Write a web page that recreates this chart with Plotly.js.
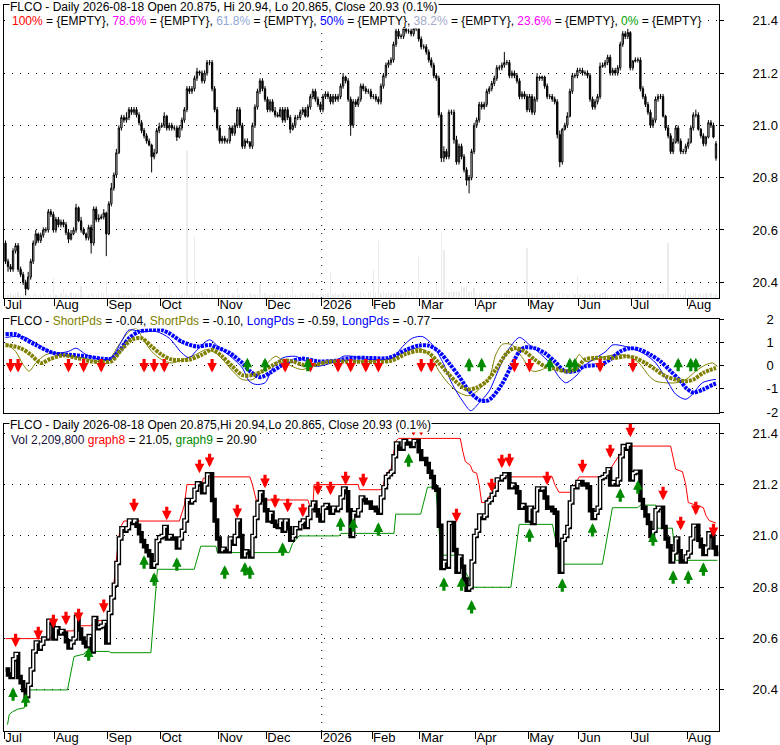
<!DOCTYPE html>
<html><head><meta charset="utf-8">
<script src="https://cdn.plot.ly/plotly-3.0.1.min.js"></script>
<style>html,body{margin:0;padding:0;background:#fff}#chart{width:780px;height:745px}</style>
</head><body><div id="chart"></div>
<script>
// ---------- DATA ----------
const monthLabels = ['Jul','Aug','Sep','Oct','Nov','Dec','2026','Feb','Mar','Apr','May','Jun','Jul','Aug'];
const monthStarts = [0,20,41,62,85,104,126,146,165,187,208,228,249,271];
const priceTicks = [20.4,20.6,20.8,21.0,21.2,21.4];
const priceTickText = ['20.4','20.6','20.8','21.0','21.2','21.4'];
const oscTicks = [-2,-1,0,1,2];
const oscTickText = ['-2','-1','0','1','2'];

const closes = [
20.48,20.46,20.45,20.52,20.54,20.45,20.43,20.40,20.375,20.42,
20.48,20.55,20.585,20.56,20.58,20.60,20.60,20.67,20.66,20.60,
20.64,20.62,20.63,20.62,20.59,20.565,20.585,20.60,20.685,20.635,
20.60,20.585,20.57,20.61,20.55,20.68,20.64,20.645,20.65,20.665,
20.585,20.70,20.76,20.81,20.895,20.99,21.03,21.02,21.03,21.06,
21.05,21.06,21.04,21.01,20.98,20.96,20.94,20.925,20.88,20.895,
20.98,20.995,21.00,21.035,20.99,21.00,20.99,20.99,20.955,20.99,
21.02,21.06,21.14,21.13,21.14,21.18,21.205,21.20,21.17,21.20,
21.24,21.24,21.14,21.06,20.99,20.94,20.95,20.94,20.94,20.99,
20.97,21.00,21.06,21.00,20.92,20.94,20.935,20.92,21.00,21.07,
21.13,21.17,21.14,21.10,21.06,21.09,21.055,21.04,21.035,21.06,
21.02,21.06,21.03,20.985,21.00,21.03,21.03,21.05,21.06,21.035,
21.07,21.11,21.13,21.10,21.08,21.06,21.11,21.12,21.11,21.09,
21.11,21.10,21.11,21.15,21.185,21.17,21.10,21.00,21.09,21.08,
21.10,21.15,21.14,21.13,21.13,21.11,21.11,21.10,21.09,21.15,
21.19,21.23,21.24,21.25,21.31,21.36,21.34,21.34,21.37,21.36,
21.36,21.35,21.37,21.37,21.33,21.30,21.30,21.28,21.25,21.23,
21.19,21.18,21.04,20.875,20.90,20.88,21.05,21.05,20.945,20.86,
20.92,20.88,20.83,20.79,20.80,20.90,21.00,21.02,21.08,21.07,
21.08,21.13,21.14,21.16,21.18,21.22,21.22,21.23,21.24,21.24,
21.19,21.20,21.19,21.17,21.11,21.12,21.11,21.06,21.11,21.05,
21.10,21.185,21.18,21.185,21.15,21.11,21.11,21.10,21.09,20.965,
20.86,20.985,21.00,21.035,21.13,21.19,21.19,21.21,21.21,21.20,
21.20,21.19,21.10,21.07,21.09,21.11,21.225,21.23,21.24,21.26,
21.20,21.21,21.20,21.22,21.31,21.35,21.34,21.355,21.22,21.245,
21.25,21.25,21.14,21.11,21.08,21.05,21.00,21.02,21.10,21.11,
21.11,21.035,20.99,20.96,20.90,20.935,20.99,20.94,20.90,20.90,
20.92,20.935,20.99,21.04,21.04,20.985,20.96,20.93,20.955,21.01,
21.00,20.955,20.93];

const opens = [
20.55,20.48,20.46,20.45,20.52,20.54,20.45,20.43,20.40,20.375,
20.42,20.48,20.55,20.585,20.56,20.58,20.60,20.60,20.67,20.66,
20.60,20.64,20.62,20.63,20.62,20.59,20.565,20.585,20.60,20.685,
20.635,20.60,20.585,20.57,20.61,20.55,20.68,20.64,20.645,20.65,
20.665,20.585,20.70,20.76,20.81,20.895,20.99,21.03,21.02,21.03,
21.06,21.05,21.06,21.04,21.01,20.98,20.96,20.94,20.925,20.88,
20.895,20.98,20.995,21.00,21.035,20.99,21.00,20.99,20.99,20.955,
20.99,21.02,21.06,21.14,21.13,21.14,21.18,21.205,21.20,21.17,
21.20,21.24,21.24,21.14,21.06,20.99,20.94,20.95,20.94,20.94,
20.99,20.97,21.00,21.06,21.00,20.92,20.94,20.935,20.92,21.00,
21.07,21.13,21.17,21.14,21.10,21.06,21.09,21.055,21.04,21.035,
21.06,21.02,21.06,21.03,20.985,21.00,21.03,21.03,21.05,21.06,
21.035,21.07,21.11,21.13,21.10,21.08,21.06,21.11,21.12,21.11,
21.09,21.11,21.10,21.11,21.15,21.185,21.17,21.10,21.00,21.09,
21.08,21.10,21.15,21.14,21.13,21.13,21.11,21.11,21.10,21.09,
21.15,21.19,21.23,21.24,21.25,21.31,21.36,21.34,21.34,21.37,
21.36,21.36,21.35,21.37,21.37,21.33,21.30,21.30,21.28,21.25,
21.23,21.19,21.18,21.04,20.875,20.90,20.88,21.05,21.05,20.945,
20.86,20.92,20.88,20.83,20.79,20.80,20.90,21.00,21.02,21.08,
21.07,21.08,21.13,21.14,21.16,21.18,21.22,21.22,21.23,21.24,
21.24,21.19,21.20,21.19,21.17,21.11,21.12,21.11,21.06,21.11,
21.05,21.10,21.185,21.18,21.185,21.15,21.11,21.11,21.10,21.09,
20.965,20.86,20.985,21.00,21.035,21.13,21.19,21.19,21.21,21.21,
21.20,21.20,21.19,21.10,21.07,21.09,21.11,21.225,21.23,21.24,
21.26,21.20,21.21,21.20,21.22,21.31,21.35,21.34,21.355,21.22,
21.245,21.25,21.25,21.14,21.11,21.08,21.05,21.00,21.02,21.10,
21.11,21.11,21.035,20.99,20.96,20.90,20.935,20.99,20.94,20.90,
20.90,20.92,20.935,20.99,21.04,21.04,20.985,20.96,20.93,20.955,
21.01,21.00,20.875];

const highs = [
20.56,20.49,20.47,20.53,20.55,20.55,20.46,20.44,20.41,20.44,
20.49,20.56,20.60,20.59,20.59,20.61,20.61,20.68,20.68,20.67,
20.65,20.65,20.64,20.64,20.63,20.60,20.60,20.61,20.70,20.69,
20.65,20.61,20.59,20.62,20.62,20.69,20.69,20.66,20.66,20.68,
20.67,20.71,20.78,20.82,20.91,21.00,21.04,21.04,21.05,21.07,
21.07,21.07,21.07,21.05,21.02,20.99,20.97,20.95,20.93,20.91,
20.99,21.01,21.01,21.05,21.04,21.01,21.01,21.00,21.00,21.00,
21.03,21.07,21.15,21.15,21.15,21.19,21.22,21.21,21.21,21.21,
21.25,21.25,21.25,21.15,21.07,21.00,20.96,20.96,20.95,21.00,
21.00,21.01,21.07,21.07,21.01,20.95,20.95,20.94,21.01,21.08,
21.14,21.18,21.18,21.15,21.11,21.10,21.10,21.07,21.05,21.07,
21.07,21.07,21.07,21.04,21.01,21.04,21.04,21.06,21.07,21.07,
21.08,21.12,21.14,21.14,21.11,21.09,21.12,21.13,21.13,21.12,
21.12,21.12,21.12,21.16,21.20,21.19,21.18,21.11,21.10,21.10,
21.11,21.16,21.16,21.15,21.14,21.14,21.12,21.12,21.11,21.16,
21.20,21.24,21.25,21.26,21.32,21.37,21.37,21.35,21.38,21.38,
21.37,21.37,21.38,21.38,21.38,21.34,21.31,21.31,21.29,21.26,
21.24,21.20,21.19,21.05,20.92,20.91,21.06,21.06,21.06,20.96,
20.93,20.93,20.89,20.84,20.81,20.91,21.01,21.03,21.09,21.09,
21.09,21.14,21.15,21.17,21.19,21.23,21.23,21.24,21.28,21.25,
21.25,21.21,21.21,21.20,21.18,21.13,21.13,21.12,21.12,21.12,
21.11,21.20,21.19,21.19,21.19,21.16,21.12,21.12,21.11,21.10,
20.98,20.99,21.01,21.05,21.14,21.20,21.20,21.22,21.22,21.22,
21.21,21.21,21.20,21.11,21.10,21.12,21.24,21.24,21.25,21.27,
21.27,21.22,21.22,21.23,21.32,21.36,21.36,21.37,21.36,21.25,
21.26,21.26,21.26,21.15,21.12,21.09,21.06,21.03,21.11,21.12,
21.12,21.12,21.04,21.00,20.97,20.95,21.00,21.00,20.95,20.91,
20.93,20.95,21.00,21.05,21.06,21.05,20.99,20.97,20.96,21.02,
21.02,21.01,20.94];

const lows = [
20.47,20.44,20.44,20.44,20.51,20.44,20.42,20.39,20.35,20.37,
20.41,20.47,20.54,20.55,20.55,20.57,20.59,20.59,20.65,20.59,
20.59,20.61,20.61,20.61,20.58,20.55,20.56,20.58,20.59,20.63,
20.59,20.58,20.56,20.56,20.51,20.54,20.63,20.63,20.64,20.64,
20.50,20.58,20.69,20.75,20.80,20.89,20.98,21.01,21.01,21.02,
21.04,21.04,21.03,21.00,20.97,20.95,20.93,20.92,20.82,20.87,
20.89,20.97,20.99,20.99,20.98,20.98,20.98,20.98,20.94,20.95,
20.98,21.01,21.05,21.12,21.12,21.13,21.17,21.19,21.16,21.16,
21.19,21.23,21.13,21.05,20.98,20.93,20.93,20.93,20.93,20.93,
20.96,20.96,20.99,20.99,20.91,20.91,20.93,20.91,20.91,20.99,
21.06,21.12,21.13,21.09,21.05,21.05,21.05,21.03,21.03,21.03,
21.01,21.01,21.02,20.97,20.98,20.99,21.02,21.02,21.04,21.03,
21.03,21.06,21.10,21.09,21.07,21.05,21.05,21.10,21.10,21.08,
21.08,21.09,21.09,21.10,21.14,21.16,21.09,20.96,20.99,21.07,
21.07,21.09,21.13,21.12,21.12,21.10,21.10,21.09,21.08,21.08,
21.14,21.18,21.22,21.23,21.24,21.30,21.33,21.33,21.33,21.35,
21.35,21.34,21.34,21.36,21.32,21.29,21.29,21.27,21.24,21.22,
21.18,21.17,21.03,20.86,20.86,20.87,20.87,21.04,20.93,20.85,
20.85,20.87,20.82,20.77,20.74,20.79,20.89,20.99,21.01,21.06,
21.06,21.07,21.12,21.13,21.15,21.17,21.21,21.21,21.22,21.23,
21.18,21.18,21.18,21.16,21.10,21.10,21.10,21.05,21.05,21.04,
21.04,21.09,21.17,21.17,21.14,21.10,21.10,21.09,21.08,20.95,
20.84,20.85,20.98,20.99,21.03,21.12,21.18,21.18,21.20,21.19,
21.19,21.18,21.09,21.06,21.06,21.08,21.10,21.22,21.22,21.23,
21.19,21.19,21.19,21.19,21.21,21.30,21.33,21.33,21.21,21.21,
21.24,21.24,21.13,21.10,21.07,21.04,20.99,20.99,21.01,21.09,
21.10,21.03,20.98,20.95,20.89,20.89,20.93,20.93,20.89,20.89,
20.89,20.91,20.93,20.98,21.03,20.98,20.95,20.92,20.92,20.95,
20.99,20.95,20.865];

// volume in millions of shares
const volumes = [
2.1,1.8,2.5,1.6,2.2,3.0,1.9,2.4,2.8,2.0,
1.7,2.3,2.6,1.9,2.2,3.1,2.0,1.8,2.4,11.0,
2.2,1.9,2.7,5.0,2.1,1.8,3.5,2.3,2.0,2.6,
6.5,2.2,1.9,2.4,2.8,2.1,1.7,2.5,3.0,2.6,
9.0,2.4,2.9,2.2,2.0,2.6,1.8,2.3,2.1,1.9,
2.5,2.2,1.9,2.4,2.0,1.8,2.3,2.6,2.1,2.4,
2.0,7.0,2.3,1.9,2.2,2.0,2.5,1.8,2.1,2.4,
2.2,2.6,80.0,2.3,2.0,33.0,2.4,2.1,3.2,2.6,
2.2,1.9,2.8,2.4,7.5,2.0,2.3,2.6,2.1,1.9,
2.4,2.2,5.5,2.0,2.6,2.3,1.8,2.5,2.2,2.0,
2.4,7.5,2.1,2.6,2.3,1.9,2.2,2.8,2.0,2.4,
1.8,2.2,2.5,2.0,6.5,2.3,1.9,2.6,2.1,2.4,
2.2,2.0,2.7,2.3,1.9,2.5,2.1,2.4,2.8,14.0,
2.3,2.6,2.0,2.2,2.5,1.9,2.4,2.8,2.1,2.6,
2.3,3.0,2.5,2.2,3.4,2.6,15.0,3.1,31.0,2.8,
4.0,2.7,3.3,2.5,3.0,2.6,3.2,2.4,2.9,3.5,
2.6,3.0,2.8,3.4,22.0,3.1,2.7,3.6,2.9,3.3,
3.8,7.5,4.2,36.0,26.0,4.5,3.4,3.9,3.2,3.6,
3.0,6.5,6.0,6.5,3.3,3.8,5.5,2.9,2.6,2.4,
2.2,2.5,2.0,2.3,1.9,2.4,2.1,2.6,2.2,2.0,
2.3,1.9,2.5,2.2,2.0,2.4,2.1,27.0,3.0,2.3,
2.1,2.5,2.0,2.2,2.6,2.3,1.9,2.4,2.2,2.7,
3.0,2.5,2.2,2.4,2.0,2.6,2.3,12.0,2.1,2.5,
2.2,2.8,2.4,2.1,2.6,2.3,2.0,2.5,2.7,2.2,
2.4,2.1,2.6,2.3,2.0,2.5,2.2,2.4,9.0,2.1,
2.6,2.3,2.0,2.4,2.2,2.7,2.3,2.1,2.5,2.2,
2.4,2.0,2.6,30.0,2.3,2.1,2.5,2.8,2.2,2.4,
5.0,2.3,2.1,2.6,2.9,2.4,2.6,2.2,2.5,2.3,
2.6,2.4,2.21];

// oscillator (ShortPds / LongPds) readings: bar index -> value
const fastShortIdx = [0,4,7,9.4,12,16,20,25,31,36,41,45,49,52,54,58,62,66,72,75.5,79.5,83.5,87.4,91.4,94,98,102,104.6,107.3,111.2,115.2,117.9,123.2,131,137.7,144.3,153.6,158.9,164.2,168.2,172.1,176.1,180,184,188,192,194.6,197.3,201.2,205.2,209.2,213.1,217.1,221.1,225,227.7,230.3,234.3,238.3,243.5,247.5,251.5,255.5,258.1,262.1,266,270,274,278,280.6,282.6];
const fastShortVal = [0.97,0.61,0.04,-0.24,0.11,0.47,0.54,0.40,0.33,0.18,0.26,0.89,1.46,1.60,1.25,0.61,0.26,0.11,0.33,0.47,0.68,0.54,0.11,-0.38,-0.60,-0.60,-0.24,0.18,0.40,0.11,-0.10,-0.17,0.04,0.18,0.21,0.18,0.33,0.61,0.75,0.47,-0.24,-0.81,-1.16,-1.30,-1.02,-0.53,0.47,0.92,0.89,0.33,-0.24,-0.17,0.11,-0.24,-0.03,0.47,0.18,0.26,0.40,0.47,0.40,0.11,-0.45,-0.67,-0.74,-0.74,-0.60,-0.24,0.04,0.11,-0.04];
const slowShortIdx = [0,6,10,14,18,23,28,34,38,42,46,50,54,58,62,66,73,78,82,86,90,94,98,102,106,110,114,118,123,128,135,142,148,153,159,164,168,172,176,180,183,187,191,195,199,202,206,210,214,218,222,226,230,234,238,242,246,250,254,258,262,266,270,273,277,282];
const slowShortVal = [0.89,0.75,0.47,0.11,0.30,0.44,0.33,0.18,0.16,0.18,0.68,1.11,1.18,0.82,0.47,0.26,0.26,0.47,0.68,0.40,-0.03,-0.41,-0.41,-0.24,0.01,0.21,0.18,0.04,0.04,0.16,0.18,0.16,0.16,0.21,0.50,0.64,0.54,0.11,-0.38,-0.81,-1.02,-0.95,-0.67,-0.10,0.54,0.75,0.61,0.26,-0.03,-0.13,-0.24,-0.17,0.26,0.33,0.33,0.33,0.40,0.33,0.11,-0.17,-0.46,-0.60,-0.67,-0.60,-0.31,-0.10];
const fastLongIdx = [0,7,12,19,25,28,32,38,42,46,49,54,60,65,70,73,75.5,81,85,90,94,96.7,99.3,103,106,110,115,118,123,131,134,138,144,153.6,157.6,161.5,165.5,169.5,173.4,177.4,181.4,184.7,188,192,196,200,204,208,212,216,220,222.4,226.4,230.3,234.3,238.3,241,246.2,250.2,254.1,258.1,262,266,270,272.7,276.6,282];
const fastLongVal = [1.21,1.25,0.97,0.54,0.61,0.75,0.47,0.26,0.33,1.03,1.53,1.46,1.46,1.18,0.54,0.33,0.61,1.11,0.75,0.33,-0.10,-0.67,-0.81,-0.74,-0.10,0.33,0.40,0.26,-0.03,0.18,0.40,0.40,0.26,0.33,0.82,1.18,1.25,0.89,0.18,-0.81,-1.52,-1.94,-1.60,-1.09,-0.10,0.75,1.21,0.89,0.54,0.11,-0.53,-0.74,-0.45,0.04,0.33,0.61,0.89,0.82,0.68,0.47,0.11,-0.53,-1.23,-1.45,-1.23,-0.74,-0.59];
const slowLongIdx = [0,4,7,12,19,25,32,38,42,45,49,53,57,62,65,70,76,81,83,89,94,97,101,105,109,113,118,124,131,138,144,152,159,164,168,172,176,180,184,188,191,193,197,201,204,206,210,214,218,222,226,230,236,240,244,248,252,256,260,264,268,270,273,277,281,282];
const slowLongVal = [1.35,1.35,1.18,0.89,0.54,0.47,0.40,0.30,0.30,0.61,1.18,1.46,1.53,1.53,1.39,1.03,0.82,0.89,0.82,0.54,0.11,-0.24,-0.50,-0.31,-0.03,0.18,0.30,0.18,0.21,0.33,0.33,0.33,0.68,0.86,0.86,0.61,0.11,-0.46,-1.09,-1.48,-1.52,-1.38,-0.81,0.04,0.61,0.78,0.75,0.54,0.18,-0.24,-0.24,-0.03,0.04,0.26,0.61,0.75,0.68,0.47,0.18,-0.24,-0.67,-0.95,-1.16,-1.02,-0.81,-0.77];
const oscSellIdx = [2,5,25,31,38,55,59,63,82,111,121,132,137,143,148,165,169,202,208,236,249];
const oscBuyIdx = [96,103,120,184,189,216,224,226,267,272,274];
const oscSellTip = -0.30;
const oscBuyTip = 0.34;

// graph8 (upper channel) / graph9 (lower channel)
const g8Idx = [0,18,19,27,28,34,35,41.5,42,43,44,45,46,47,69,70,71,72,78,78.5,82,82.5,97,98,99.5,120,121,122,122.5,140,140.5,149,150,151,152,153,154,155,156,180.5,181.5,182.5,184.5,185.5,187,188,189,190.6,191.5,193.3,194,197.3,217,218,219.7,225,226,227.7,238.3,240,244,246,264,265,266,268.7,270,271,277,278,279.3,282];
const g8Val = [20.60,20.60,20.63,20.63,20.65,20.65,20.67,20.67,20.72,20.82,20.91,21.0,21.04,21.058,21.058,21.09,21.12,21.20,21.20,21.225,21.225,21.23,21.23,21.2,21.14,21.14,21.11,21.11,21.2,21.2,21.18,21.18,21.2,21.24,21.25,21.26,21.32,21.37,21.38,21.38,21.33,21.29,21.275,21.25,21.245,21.2,21.13,21.13,21.15,21.16,21.2,21.23,21.23,21.2,21.17,21.17,21.2,21.23,21.23,21.26,21.32,21.35,21.35,21.3,21.26,21.25,21.20,21.13,21.11,21.08,21.06,21.05];
const g9Idx = [0.8,1.5,2.8,4.8,7.4,8.7,24.6,27.2,31.2,31.9,41.1,41.8,57.7,59.7,60.3,74.9,77.5,83.5,84.1,112.6,113.9,116.5,132.4,133.1,154.2,154.9,164.8,167.5,170.8,172.8,173.4,178.7,185.3,186,200.6,203.2,203.9,217.1,218.4,221,236.9,240.9,250.8,252.1,258.1,258.8,264.7,266,282.6];
const g9Val = [20.265,20.305,20.315,20.325,20.33,20.40,20.40,20.53,20.54,20.55,20.55,20.545,20.545,20.81,20.87,20.87,20.96,20.96,20.935,20.935,20.97,21.0,21.0,21.01,21.01,21.085,21.085,21.19,21.19,20.93,20.925,20.925,20.81,20.80,20.80,21.01,21.045,21.045,20.98,20.89,20.89,21.11,21.11,21.12,21.12,21.03,21.03,20.905,20.905];
const sellIdx = [4,13,19,24,29,39,51,64,77,81,92,103,107,112,118,124,129,135,142,156,162,165,179,193,197,200,215,229,240,248,261,268,274,281];
const sellLevel = [20.566,20.594,20.64,20.652,20.664,20.70,21.092,21.061,21.244,21.268,21.069,21.186,21.108,21.092,21.073,21.158,21.158,21.197,21.19,21.40,21.39,21.39,21.053,21.17,21.264,21.268,21.197,21.244,21.303,21.384,21.139,21.022,21.081,20.995];
const buyIdx = [3,8,33,55,59,68,87,95,97,110,133,138,148,160,174,181,185,208,221,233,244,251,257,265,271,277];
const buyLevel = [20.41,20.387,20.566,20.925,20.858,20.917,20.886,20.898,20.886,20.975,21.073,21.069,21.053,21.322,20.839,20.839,20.75,21.03,20.835,21.05,21.186,21.217,21.014,20.866,20.866,20.897];

// ---------- LAYOUT HELPERS ----------
const N = closes.length;
const idx = closes.map((_, i) => i);
const FONT = 'Liberation Sans, Arial, sans-serif';
const PL = 4, PR = 719, PT = 5, PB = 731;
const xf = px => (px - PL) / (PR - PL);
const yf = py => (PB - py) / (PB - PT);
const xRange = [-0.6, 283.2];
const monthTickVals = monthStarts.map(s => s - 0.5);
const RED = '#ff0000', GREEN = '#008a00', OLIVE = '#808000', BLUE = '#0000ff';
const DOT = '1px,7px';

const traces = [];
traces.push({type:'bar', x:idx, y:volumes, xaxis:'x', yaxis:'y', marker:{color:'#ebebeb', line:{width:0}}, width:0.5, hoverinfo:'skip'});
traces.push({type:'candlestick', x:idx, open:opens, high:highs, low:lows, close:closes, xaxis:'x', yaxis:'y2',
  increasing:{line:{color:'#000', width:1}, fillcolor:'#ffffff'},
  decreasing:{line:{color:'#000', width:1}, fillcolor:'#000000'},
  whiskerwidth:0, hoverinfo:'skip'});
traces.push({type:'scatter', mode:'lines', x:fastShortIdx, y:fastShortVal, xaxis:'x2', yaxis:'y3', line:{color:OLIVE, width:1, shape:'spline', smoothing:0.8}, hoverinfo:'skip'});
traces.push({type:'scatter', mode:'lines', x:fastLongIdx, y:fastLongVal, xaxis:'x2', yaxis:'y3', line:{color:BLUE, width:1, shape:'spline', smoothing:0.8}, hoverinfo:'skip'});
traces.push({type:'scatter', mode:'lines', x:slowLongIdx, y:slowLongVal, xaxis:'x2', yaxis:'y3', line:{color:BLUE, width:4, shape:'spline', smoothing:0.8, dash:'3px,1px'}, hoverinfo:'skip'});
traces.push({type:'scatter', mode:'lines', x:slowShortIdx, y:slowShortVal, xaxis:'x2', yaxis:'y3', line:{color:OLIVE, width:4, shape:'spline', smoothing:0.8, dash:'3px,1px'}, hoverinfo:'skip'});
traces.push({type:'scatter', mode:'lines', x:g8Idx, y:g8Val, xaxis:'x3', yaxis:'y4', line:{color:RED, width:1}, hoverinfo:'skip'});
traces.push({type:'scatter', mode:'lines', x:g9Idx, y:g9Val, xaxis:'x3', yaxis:'y4', line:{color:'#009000', width:1}, hoverinfo:'skip'});
// step line of closes: black thick, white core on rising legs
traces.push({type:'scatter', mode:'lines', x:idx.concat([N]), y:closes.concat([closes[N-1]]), xaxis:'x3', yaxis:'y4', line:{color:'#000', width:4.5, shape:'hv'}, hoverinfo:'skip'});
const wx = [], wy = [];
for (let i = 1; i < N; i++) {
  if (closes[i] > closes[i-1]) { wx.push(i, i, i+1, null); wy.push(closes[i-1], closes[i], closes[i], null); }
}
traces.push({type:'scatter', mode:'lines', x:wx, y:wy, xaxis:'x3', yaxis:'y4', line:{color:'#fff', width:1.8}, connectgaps:false, hoverinfo:'skip'});

function arrow(xref, yref, x, y, up, color) {
  return {xref:xref, yref:yref, x:x, y:y, axref:'pixel', ayref:'pixel', ax:0, ay: up ? 15 : -15,
    text:'', showarrow:true, arrowhead:2, arrowsize:0.6, arrowwidth:3.2, arrowcolor:color, standoff:0};
}
const annotations = [];
oscSellIdx.forEach(i => annotations.push(arrow('x2','y3', i, oscSellTip, false, RED)));
oscBuyIdx.forEach(i => annotations.push(arrow('x2','y3', i, oscBuyTip, true, GREEN)));
sellIdx.forEach((i,k) => annotations.push(arrow('x3','y4', i, sellLevel[k], false, RED)));
buyIdx.forEach((i,k) => annotations.push(arrow('x3','y4', i, buyLevel[k], true, GREEN)));

function label(px, py, html) {
  return {xref:'paper', yref:'paper', x:xf(px), y:yf(py), xanchor:'left', yanchor:'middle', text:html, showarrow:false,
    bgcolor:'#ffffff', borderpad:0, font:{family:FONT, size:12, color:'#000'}};
}
const sp = (c, t) => '<span style="color:' + c + '">' + t + '</span>';
annotations.push(label(9, 7, 'FLCO - Daily 2026-08-18 Open 20.875, Hi 20.94, Lo 20.865, Close 20.93 (0.1%)'));
annotations.push(label(11, 20.5, sp(RED,'100%') + ' = {EMPTY}, ' + sp('#ff00ff','78.6%') + ' = {EMPTY}, ' + sp('#8fa6d6','61.8%') + ' = {EMPTY}, ' + sp(BLUE,'50%') + ' = {EMPTY}, ' + sp('#a3aac8','38.2%') + ' = {EMPTY}, ' + sp('#ff00ff','23.6%') + ' = {EMPTY}, ' + sp('#00a000','0%') + ' = {EMPTY}'));
annotations.push(label(9, 320.5, 'FLCO - ' + sp(OLIVE,'ShortPds') + ' = -0.04, ' + sp(OLIVE,'ShortPds') + ' = -0.10, ' + sp(BLUE,'LongPds') + ' = -0.59, ' + sp(BLUE,'LongPds') + ' = -0.77'));
annotations.push(label(9, 424.5, 'FLCO - Daily 2026-08-18 Open 20.875,Hi 20.94,Lo 20.865, Close 20.93 (0.1%)'));
annotations.push(label(10, 439.5, sp('#1a1040','Vol 2,209,800') + ' ' + sp(RED,'graph8') + ' = 21.05, ' + sp('#008a00','graph9') + ' = 20.90'));

const xCommon = {range:xRange, tickvals:monthTickVals, ticktext:monthLabels, ticks:'outside', ticklen:7, tickcolor:'#000', tickwidth:1,
  showline:true, mirror:true, linecolor:'#000', linewidth:1, showgrid:false, zeroline:false, fixedrange:true,
  ticklabelposition:'outside right', ticklabelstandoff:-6, tickfont:{family:FONT, size:13, color:'#000'}};
const yCommon = {side:'right', ticks:'outside', ticklen:4, tickcolor:'#000', showline:true, mirror:true, linecolor:'#000', linewidth:1,
  showgrid:true, gridcolor:'#000', gridwidth:1, griddash:DOT, zeroline:false, fixedrange:true, tickfont:{family:FONT, size:13, color:'#000'}};

const d1 = [yf(298), 1], d2 = [yf(413), yf(319)], d3 = [0, yf(423.5)];
const layout = {
  width:780, height:745, margin:{l:PL, r:780-PR, t:PT, b:745-PB}, paper_bgcolor:'#fff', plot_bgcolor:'#fff',
  showlegend:false, boxgap:0.25, bargap:0,
  font:{family:FONT, size:13, color:'#000'},
  xaxis: Object.assign({}, xCommon, {anchor:'y', rangeslider:{visible:false}}),
  xaxis2: Object.assign({}, xCommon, {anchor:'y3', ticks:'', showticklabels:false}),
  xaxis3: Object.assign({}, xCommon, {anchor:'y4'}),
  yaxis: {domain:d1, range:[0,159], visible:false, fixedrange:true},
  yaxis2: Object.assign({}, yCommon, {overlaying:'y', range:[20.34,21.46], tickvals:priceTicks, ticktext:priceTickText, ticklabelstandoff:26}),
  yaxis3: Object.assign({}, yCommon, {domain:d2, anchor:'x2', range:[-2.04,2.005], tickvals:oscTicks, ticktext:oscTickText, ticklabelstandoff:40}),
  yaxis4: Object.assign({}, yCommon, {domain:d3, anchor:'x3', range:[20.24,21.438], tickvals:priceTicks, ticktext:priceTickText, ticklabelstandoff:26}),
  shapes:[
    {type:'line', xref:'x', yref:'y domain', x0:monthTickVals[6], x1:monthTickVals[6], y0:0, y1:1, line:{color:'#000', width:1, dash:DOT}, layer:'below'},
    {type:'line', xref:'x3', yref:'y4 domain', x0:monthTickVals[6], x1:monthTickVals[6], y0:0, y1:1, line:{color:'#000', width:1, dash:DOT}, layer:'below'}
  ],
  annotations: annotations
};
Plotly.newPlot('chart', traces, layout, {displayModeBar:false, staticPlot:true});
</script></body></html>
